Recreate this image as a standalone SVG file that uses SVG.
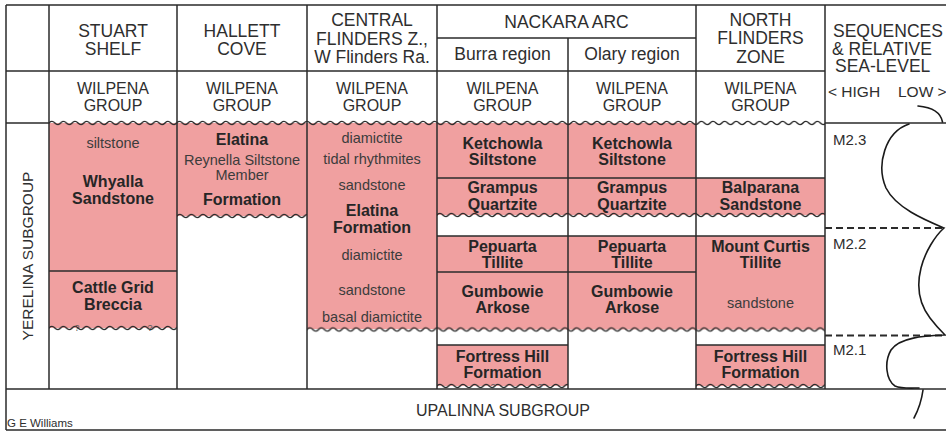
<svg xmlns="http://www.w3.org/2000/svg" width="946" height="432" viewBox="0 0 946 432">
<style>
text{font-family:"Liberation Sans",Arial,Helvetica,sans-serif;fill:#2e2e2e;text-anchor:middle}
.hd{font-size:17.5px}
.wg{font-size:16px}
.b{font-size:16px;font-weight:bold;fill:#262626}
.n{font-size:14.5px;fill:#3c3c3c}
.sq{font-size:15px;text-anchor:start}
.pk{fill:#F0A0A0}
.ln{stroke:#2b2b2b;stroke-width:1.5;fill:none}
.dash{stroke:#2b2b2b;stroke-width:2;stroke-dasharray:7 4;fill:none}
.curve{stroke:#1a1a1a;stroke-width:1.6;fill:none;stroke-linecap:round}
.q{font-size:9px;fill:#555}
.wave{fill:url(#wv)}
</style>
<defs>
<pattern id="wv" patternUnits="userSpaceOnUse" x="0" y="-4" width="11.6" height="8">
<path d="M-5.8,4 q2.9,3.2 5.8,0 t5.8,0 t5.8,0 t5.8,0" stroke="#2b2b2b" stroke-width="1.4" fill="none"/>
</pattern>
</defs>
<rect x="0" y="0" width="946" height="432" fill="#ffffff"/>

<!-- pink units -->
<g id="stuart-whyalla"><rect class="pk" x="49" y="123" width="128" height="148"/>
<text class="n" x="113" y="148">siltstone</text>
<text class="b" x="113" y="187">Whyalla</text><text class="b" x="113" y="204">Sandstone</text></g>
<g id="stuart-cattle-grid"><rect class="pk" x="49" y="271" width="128" height="57"/>
<text class="b" x="113" y="293">Cattle Grid</text><text class="b" x="113" y="310">Breccia</text></g>

<g id="hallett-elatina"><rect class="pk" x="177" y="123" width="130" height="93"/>
<text class="b" x="242" y="145">Elatina</text>
<text class="n" x="242" y="165">Reynella Siltstone</text>
<text class="n" x="242" y="180">Member</text>
<text class="b" x="242" y="205">Formation</text></g>

<g id="central-elatina"><rect class="pk" x="307" y="123" width="130" height="206"/>
<text class="n" x="372" y="143">diamictite</text>
<text class="n" x="372" y="164">tidal rhythmites</text>
<text class="n" x="372" y="190">sandstone</text>
<text class="b" x="372" y="216">Elatina</text><text class="b" x="372" y="233">Formation</text>
<text class="n" x="372" y="260">diamictite</text>
<text class="n" x="372" y="295">sandstone</text>
<text class="n" x="372" y="322">basal diamictite</text></g>

<g id="burra-ketchowla"><rect class="pk" x="437" y="123" width="131" height="55"/>
<text class="b" x="502.5" y="149">Ketchowla</text><text class="b" x="502.5" y="165">Siltstone</text></g>
<g id="burra-grampus"><rect class="pk" x="437" y="178" width="131" height="37"/>
<text class="b" x="502.5" y="193">Grampus</text><text class="b" x="502.5" y="210">Quartzite</text></g>
<g id="burra-pepuarta"><rect class="pk" x="437" y="236" width="131" height="36"/>
<text class="b" x="502.5" y="252">Pepuarta</text><text class="b" x="502.5" y="268">Tillite</text></g>
<g id="burra-gumbowie"><rect class="pk" x="437" y="272" width="131" height="57.5"/>
<text class="b" x="502.5" y="297">Gumbowie</text><text class="b" x="502.5" y="313">Arkose</text></g>
<g id="burra-fortress-hill"><rect class="pk" x="437" y="345" width="131" height="41"/>
<text class="b" x="502.5" y="362">Fortress Hill</text><text class="b" x="502.5" y="378">Formation</text></g>

<g id="olary-ketchowla"><rect class="pk" x="568" y="123" width="128" height="55"/>
<text class="b" x="632" y="149">Ketchowla</text><text class="b" x="632" y="165">Siltstone</text></g>
<g id="olary-grampus"><rect class="pk" x="568" y="178" width="128" height="37"/>
<text class="b" x="632" y="193">Grampus</text><text class="b" x="632" y="210">Quartzite</text></g>
<g id="olary-pepuarta"><rect class="pk" x="568" y="236" width="128" height="36"/>
<text class="b" x="632" y="252">Pepuarta</text><text class="b" x="632" y="268">Tillite</text></g>
<g id="olary-gumbowie"><rect class="pk" x="568" y="272" width="128" height="57.5"/>
<text class="b" x="632" y="297">Gumbowie</text><text class="b" x="632" y="313">Arkose</text></g>

<g id="north-balparana"><rect class="pk" x="696" y="178" width="129" height="37"/>
<text class="b" x="760.5" y="193">Balparana</text><text class="b" x="760.5" y="210">Sandstone</text></g>
<g id="north-mount-curtis"><rect class="pk" x="696" y="236" width="129" height="93.5"/>
<text class="b" x="760.5" y="252">Mount Curtis</text><text class="b" x="760.5" y="268">Tillite</text>
<text class="n" x="760.5" y="308">sandstone</text></g>
<g id="north-fortress-hill"><rect class="pk" x="696" y="345" width="129" height="41"/>
<text class="b" x="760.5" y="362">Fortress Hill</text><text class="b" x="760.5" y="378">Formation</text></g>

<!-- header cells -->
<g id="hdr-stuart"><text class="hd" x="113" y="37">STUART</text><text class="hd" x="113" y="55">SHELF</text></g>
<g id="hdr-hallett"><text class="hd" x="242" y="37">HALLETT</text><text class="hd" x="242" y="55">COVE</text></g>
<g id="hdr-central"><text class="hd" x="372" y="26">CENTRAL</text><text class="hd" x="372" y="45">FLINDERS Z.,</text><text class="hd" x="372" y="63">W Flinders Ra.</text></g>
<g id="hdr-nackara"><text class="hd" x="566.5" y="28">NACKARA ARC</text></g>
<g id="hdr-burra"><text class="hd" x="502.5" y="60">Burra region</text></g>
<g id="hdr-olary"><text class="hd" x="632" y="60">Olary region</text></g>
<g id="hdr-north"><text class="hd" x="760.5" y="26">NORTH</text><text class="hd" x="760.5" y="44">FLINDERS</text><text class="hd" x="760.5" y="63">ZONE</text></g>
<g id="hdr-sequences"><text class="hd" x="833" y="37" style="text-anchor:start">SEQUENCES</text><text class="hd" x="832" y="55" style="text-anchor:start">&amp; RELATIVE</text><text class="hd" x="835" y="72" style="text-anchor:start">SEA-LEVEL</text>
<text class="wg" x="828" y="97" style="text-anchor:start;font-size:15.5px">&lt; HIGH</text><text class="wg" x="898" y="97" style="text-anchor:start;font-size:15.5px">LOW &gt;</text></g>

<g id="wilpena-row">
<text class="wg" x="113" y="94">WILPENA</text><text class="wg" x="113" y="110.5">GROUP</text>
<text class="wg" x="242" y="94">WILPENA</text><text class="wg" x="242" y="110.5">GROUP</text>
<text class="wg" x="372" y="94">WILPENA</text><text class="wg" x="372" y="110.5">GROUP</text>
<text class="wg" x="502.5" y="94">WILPENA</text><text class="wg" x="502.5" y="110.5">GROUP</text>
<text class="wg" x="632" y="94">WILPENA</text><text class="wg" x="632" y="110.5">GROUP</text>
<text class="wg" x="760.5" y="94">WILPENA</text><text class="wg" x="760.5" y="110.5">GROUP</text>
</g>

<g id="yerelina"><text class="wg" transform="translate(33,256) rotate(-90)" x="0" y="0" style="font-size:15.5px">YERELINA SUBGROUP</text></g>
<g id="upalinna"><text class="wg" x="503" y="416">UPALINNA SUBGROUP</text></g>
<g id="credit"><text x="7" y="427" style="font-size:11.5px;text-anchor:start">G E Williams</text></g>

<g id="seq-labels">
<text class="sq" x="833" y="145">M2.3</text>
<text class="sq" x="833" y="249">M2.2</text>
<text class="sq" x="833" y="355">M2.1</text>
</g>

<!-- connectors / rules -->
<g id="connectors">
<path class="ln" d="M6,5 H946 M6,5 V430 M6,430 H946 M6,389 H946 M6,71 H825 M437,38 H696 M6,123 H49 M825,123 H946
M49,5 V389 M177,5 V389 M307,5 V389 M437,5 V389 M568,38 V389 M696,5 V389 M825,5 V389
M49,271 H177 M437,178 H825 M437,236 H825 M437,272 H696 M437,345 H568 M696,345 H825"/>
<rect class="wave" transform="translate(49,123)" x="0" y="-4" width="776" height="8"/>
<rect class="wave" transform="translate(177,216)" x="0" y="-4" width="130" height="8"/>
<rect class="wave" transform="translate(437,215)" x="0" y="-4" width="388" height="8"/>
<rect class="wave" transform="translate(49,328)" x="0" y="-4" width="128" height="8"/>
<rect class="wave" transform="translate(307,329.5)" x="0" y="-4" width="518" height="8"/>
<rect class="wave" transform="translate(437,386)" x="0" y="-4" width="131" height="8"/>
<rect class="wave" transform="translate(696,386)" x="0" y="-4" width="129" height="8"/>
<text class="q" x="77" y="331">?</text>
<text class="q" x="150" y="331">?</text>
<text class="q" x="493" y="390">?</text>
<text class="q" x="540" y="390">?</text>
<path class="dash" d="M825,228 H946 M825,335.5 H946"/>
<path class="curve" d="M918,106 Q940,108 942.5,122"/>
<path class="curve" d="M909,124 C885,132 876,165 886,188 C896,208 925,220 944,228 C935,236 925,252 921,268 C916,288 920,305 930,318 C936,326 942,332 945,335 C925,336 900,337 891,350 C884,362 886,380 895,386 C902,389 912,388 919,388"/>
<path class="curve" d="M923,390 Q921,405 914,418"/>
</g>
</svg>
